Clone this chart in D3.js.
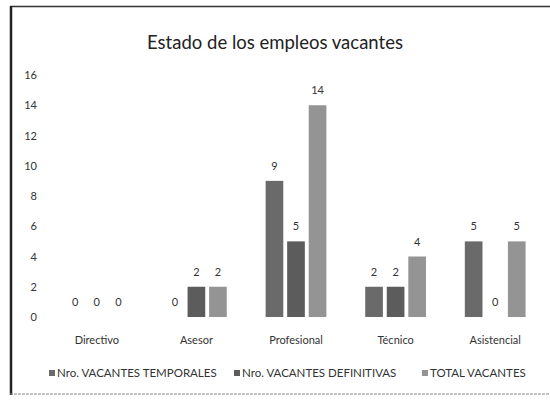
<!DOCTYPE html>
<html>
<head>
<meta charset="utf-8">
<script src="https://cdn.jsdelivr.net/npm/d3@7"></script>
<style>
  body { margin: 0; background: #fff; }
  svg { display: block; font-family: Lato, "Open Sans", sans-serif; }
</style>
</head>
<body>
<svg></svg>
<script>
var WIDTH = 550;
var HEIGHT = 401;

// data
var categories = ["Directivo", "Asesor", "Profesional", "Técnico", "Asistencial"];
var seriesNames = ["Nro. VACANTES TEMPORALES", "Nro. VACANTES DEFINITIVAS", "TOTAL VACANTES"];
var temporales = [0, 0, 9, 2, 5];
var definitivas = [0, 2, 5, 2, 0];
var totales = [0, 2, 14, 4, 5];
var yTicks = [0, 2, 4, 6, 8, 10, 12, 14, 16];

var seriesValues = [temporales, definitivas, totales];
var colors = ["#6a6a6a", "#5c5c5c", "#949494"];

var svg = d3.select("svg")
    .attr("width", WIDTH)
    .attr("height", HEIGHT);

// frame: top + left dark, bottom lighter, no right edge visible
svg.append("line")
    .attr("x1", 10).attr("x2", 550)
    .attr("y1", 6.5).attr("y2", 6.5)
    .attr("stroke", "#333")
    .attr("stroke-width", 1.5);
svg.append("line")
    .attr("x1", 11).attr("x2", 11)
    .attr("y1", 6).attr("y2", 395)
    .attr("stroke", "#222")
    .attr("stroke-width", 2.5);
svg.append("line")
    .attr("x1", 10).attr("x2", 550)
    .attr("y1", 394).attr("y2", 394)
    .attr("stroke", "#888")
    .attr("stroke-width", 1)
    .attr("stroke-dasharray", "3,1");

svg.append("text")
    .attr("x", 275).attr("y", 49)
    .attr("text-anchor", "middle")
    .attr("font-size", 18.5)
    .attr("fill", "#222")
    .text("Estado de los empleos vacantes");

var x0 = d3.scaleBand()
    .domain(categories)
    .range([47, 545])
    .paddingInner(0.39)
    .paddingOuter(0.195);

var x1 = d3.scaleBand()
    .domain(d3.range(seriesNames.length))
    .range([0, x0.bandwidth()])
    .paddingInner(0.18);

var y = d3.scaleLinear()
    .domain([0, 16])
    .range([317, 75]);

// y tick labels (no axis line in the original)
var yAxis = svg.append("g")
    .attr("transform", "translate(37,0)")
    .call(d3.axisLeft(y).tickValues(yTicks).tickSize(0).tickPadding(0));
yAxis.select(".domain").remove();
yAxis.selectAll("text")
    .attr("font-family", "Lato, sans-serif")
    .attr("font-size", 11)
    .attr("fill", "#333");

// category labels
var xAxis = svg.append("g")
    .attr("transform", "translate(0,336)")
    .call(d3.axisBottom(x0).tickSize(0).tickPadding(0));
xAxis.select(".domain").remove();
xAxis.selectAll("text")
    .attr("font-family", "Lato, sans-serif")
    .attr("font-size", 11)
    .attr("fill", "#333");

var rows = categories.map(function(c, i) {
    return { category: c, values: seriesValues.map(function(s) { return s[i]; }) };
});

var groups = svg.append("g")
    .selectAll("g")
    .data(rows)
    .enter()
    .append("g")
    .attr("transform", function(d) { return "translate(" + x0(d.category) + ",0)"; });

var cells = groups.selectAll("g")
    .data(function(d) { return d.values.map(function(v, k) { return { k: k, v: v }; }); })
    .enter()
    .append("g");

cells.append("rect")
    .attr("x", function(d) { return x1(d.k); })
    .attr("width", x1.bandwidth())
    .attr("y", function(d) { return y(d.v); })
    .attr("height", function(d) { return y(0) - y(d.v); })
    .attr("fill", function(d) { return colors[d.k]; });

cells.append("text")
    .attr("x", function(d) { return x1(d.k) + x1.bandwidth() / 2; })
    .attr("y", function(d) { return y(d.v) - 11; })
    .attr("text-anchor", "middle")
    .attr("font-size", 11)
    .attr("fill", "#333")
    .text(function(d) { return d.v; });

// legend
var legendX = [49, 234, 422];
var legend = svg.append("g")
    .selectAll("g")
    .data(seriesNames)
    .enter()
    .append("g")
    .attr("transform", function(d, i) { return "translate(" + legendX[i] + ",377)"; });

legend.append("rect")
    .attr("x", 0).attr("y", -7)
    .attr("width", 6).attr("height", 6)
    .attr("fill", function(d, i) { return colors[i]; });

legend.append("text")
    .attr("x", 8).attr("y", 0)
    .attr("font-size", 11.5)
    .attr("fill", "#333")
    .text(function(d) { return d; });
</script>
</body>
</html>
